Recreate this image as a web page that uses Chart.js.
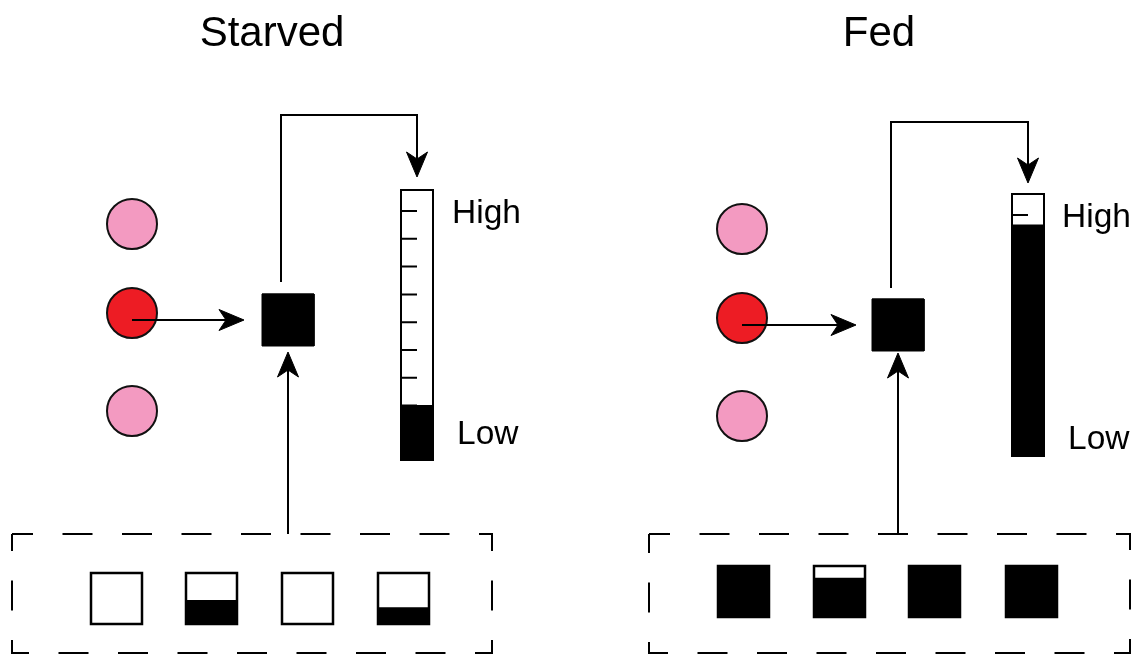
<!DOCTYPE html>
<html>
<head>
<meta charset="utf-8">
<title>Starved vs Fed</title>
<script src="https://cdn.jsdelivr.net/npm/chart.js@4.4.1/dist/chart.umd.min.js"></script>
<style>
  html, body { margin: 0; padding: 0; background: #fff; overflow: hidden; }
  #wrap { position: relative; width: 1138px; height: 656px; }
</style>
</head>
<body>
<div id="wrap"><canvas id="mycanvas"></canvas></div>
<script>
// the two conditions and the state of the three cells (1 = active)
var panels = ['Starved', 'Fed'];
var cellActive = [0, 1, 0];
// how full the read-out meter is (0..1)
var meterLevel = [0.20, 0.88];
// how full each of the four input boxes is (0..1)
var inputFill = [
	[0, 0.45, 0, 0.31],
	[1, 0.75, 1, 1]
];
var meterLabels = ['High', 'Low'];
var meterTickCount = 9;

/* where things sit, in page pixels (x axis runs 0..1138, y axis 0..656 top down) */
var layout = [
	{ title: [272, 46], cellX: 132, cellY: [224, 313, 411], arrowY: 320, arrowTipX: 244,
	  hub: [288, 320], hubSize: 52, inputTipY: 352,
	  feedX: 281, feedStartY: 282, feedTop: 115, meterTipY: 177,
	  meter: [401, 433, 190, 460], tickStart: 21, tickStep: 27.8, tickLen: 16,
	  high: [452, 223], low: [457, 444],
	  box: [12, 534, 492, 653], inputX: [91, 186, 282, 378], inputTop: 573, inputSize: 51 },
	{ title: [879, 46], cellX: 742, cellY: [229, 318, 416], arrowY: 325, arrowTipX: 856,
	  hub: [898, 325], hubSize: 52, inputTipY: 353,
	  feedX: 891, feedStartY: 288, feedTop: 122, meterTipY: 183,
	  meter: [1012, 1044, 194, 456], tickStart: 21, tickStep: 27.8, tickLen: 16,
	  high: [1062, 227], low: [1068, 449],
	  box: [649, 534, 1130, 653], inputX: [718, 814, 909, 1006], inputTop: 566, inputSize: 51 }
];

var pink = '#F39AC1', red = '#ED1C24';

var datasets = [];
// later datasets are drawn on top
function add(ds) { ds.order = -datasets.length; datasets.push(ds); }
function pts(list) { return list.map(function(p) { return {x: p[0], y: p[1]}; }); }
function path(list, extra) {
	var ds = {
		type: 'line', data: pts(list), showLine: true, pointRadius: 0,
		borderColor: '#000', borderWidth: 2, fill: false, tension: 0,
		borderJoinStyle: 'miter', spanGaps: false
	};
	for (var k in extra) ds[k] = extra[k];
	add(ds);
}
function box(x0, y0, x1, y1, fillColor, edge, w) {
	path([[x0, y0], [x1, y0], [x1, y1], [x0, y1], [x0, y0], [x1, y0]],
		{backgroundColor: fillColor, fill: 'shape', borderColor: edge, borderWidth: w});
}
function arrowHead(tx, ty, dx, dy) {
	var L = 25, W = 10.5, N = 7;
	var nx = -dy, ny = dx;
	path([[tx, ty],
		[tx - L * dx + W * nx, ty - L * dy + W * ny],
		[tx - (L - N) * dx, ty - (L - N) * dy],
		[tx - L * dx - W * nx, ty - L * dy - W * ny],
		[tx, ty]],
		{backgroundColor: '#000', fill: 'shape', borderWidth: 1, borderJoinStyle: 'round'});
}
function arrow(list) {
	var n = list.length, a = list[n - 2], b = list[n - 1];
	var len = Math.hypot(b[0] - a[0], b[1] - a[1]);
	var dx = (b[0] - a[0]) / len, dy = (b[1] - a[1]) / len;
	path(list.slice(0, n - 1).concat([[b[0] - 12 * dx, b[1] - 12 * dy]]));
	arrowHead(b[0], b[1], dx, dy);
}

panels.forEach(function(name, i) {
	var L = layout[i];
	var b = L.box;
	// dashed box round the inputs
	path([[b[0], b[1]], [b[2], b[1]], [b[2], b[3]], [b[0], b[3]], [b[0], b[1]]],
		{borderDash: [30, 29.5], borderDashOffset: 9});

	// input boxes
	inputFill[i].forEach(function(f, j) {
		var x0 = L.inputX[j], x1 = x0 + L.inputSize, y0 = L.inputTop, y1 = y0 + L.inputSize;
		box(x0, y0, x1, y1, '#fff', '#000', 2.5);
		if (f > 0) box(x0, y1 - f * L.inputSize, x1, y1, '#000', '#000', 2);
	});
	arrow([[L.hub[0], b[1]], [L.hub[0], L.inputTipY]]);

	// the three cells
	add({
		type: 'scatter', showLine: false,
		data: L.cellY.map(function(y) { return {x: L.cellX, y: y}; }),
		pointRadius: 25, pointHoverRadius: 25, pointBorderWidth: 2, pointBorderColor: '#111',
		pointBackgroundColor: cellActive.map(function(a) { return a ? red : pink; })
	});
	arrow([[L.cellX, L.arrowY], [L.arrowTipX, L.arrowY]]);

	// hub
	var h = L.hubSize / 2;
	box(L.hub[0] - h, L.hub[1] - h, L.hub[0] + h, L.hub[1] + h, '#000', '#000', 1);

	// meter
	var m = L.meter, mx = (m[0] + m[1]) / 2;
	arrow([[L.feedX, L.feedStartY], [L.feedX, L.feedTop], [mx, L.feedTop], [mx, L.meterTipY]]);
	box(m[0], m[2], m[1], m[3], '#fff', '#000', 2);
	var ticks = [];
	for (var k = 0; k < meterTickCount; k++) {
		var ty = m[2] + L.tickStart + k * L.tickStep;
		ticks.push([m[0], ty], [m[0] + L.tickLen, ty], [m[0] + L.tickLen, null]);
	}
	path(ticks);
	var top = m[3] - meterLevel[i] * (m[3] - m[2]);
	box(m[0], top, m[1], m[3], '#000', '#000', 2);
});

/* titles and meter labels */
var labelPlugin = {
	id: 'labels',
	afterDatasetsDraw: function(chart) {
		var ctx = chart.ctx, x = chart.scales.x, y = chart.scales.y;
		ctx.save();
		ctx.fillStyle = '#000';
		ctx.textBaseline = 'alphabetic';
		panels.forEach(function(name, i) {
			var L = layout[i];
			ctx.font = '42px "Liberation Sans", Arial, sans-serif';
			ctx.textAlign = 'center';
			ctx.fillText(name, x.getPixelForValue(L.title[0]), y.getPixelForValue(L.title[1]));
			ctx.font = '33.5px "Liberation Sans", Arial, sans-serif';
			ctx.textAlign = 'left';
			ctx.fillText(meterLabels[0], x.getPixelForValue(L.high[0]), y.getPixelForValue(L.high[1]));
			ctx.fillText(meterLabels[1], x.getPixelForValue(L.low[0]), y.getPixelForValue(L.low[1]));
		});
		ctx.restore();
	}
};

var ctx = document.getElementById('mycanvas');
var chart = new Chart(ctx, {
	type: 'scatter',
	data: { datasets: datasets },
	options: {
		responsive: true,
		maintainAspectRatio: false,
		animation: false,
		events: [],
		layout: { padding: 0, autoPadding: false },
		scales: {
			x: { type: 'linear', min: 0, max: 1138, display: false },
			y: { type: 'linear', min: 0, max: 656, reverse: true, display: false }
		},
		plugins: { legend: { display: false }, tooltip: { enabled: false } }
	},
	plugins: [labelPlugin]
});
</script>
</body>
</html>
